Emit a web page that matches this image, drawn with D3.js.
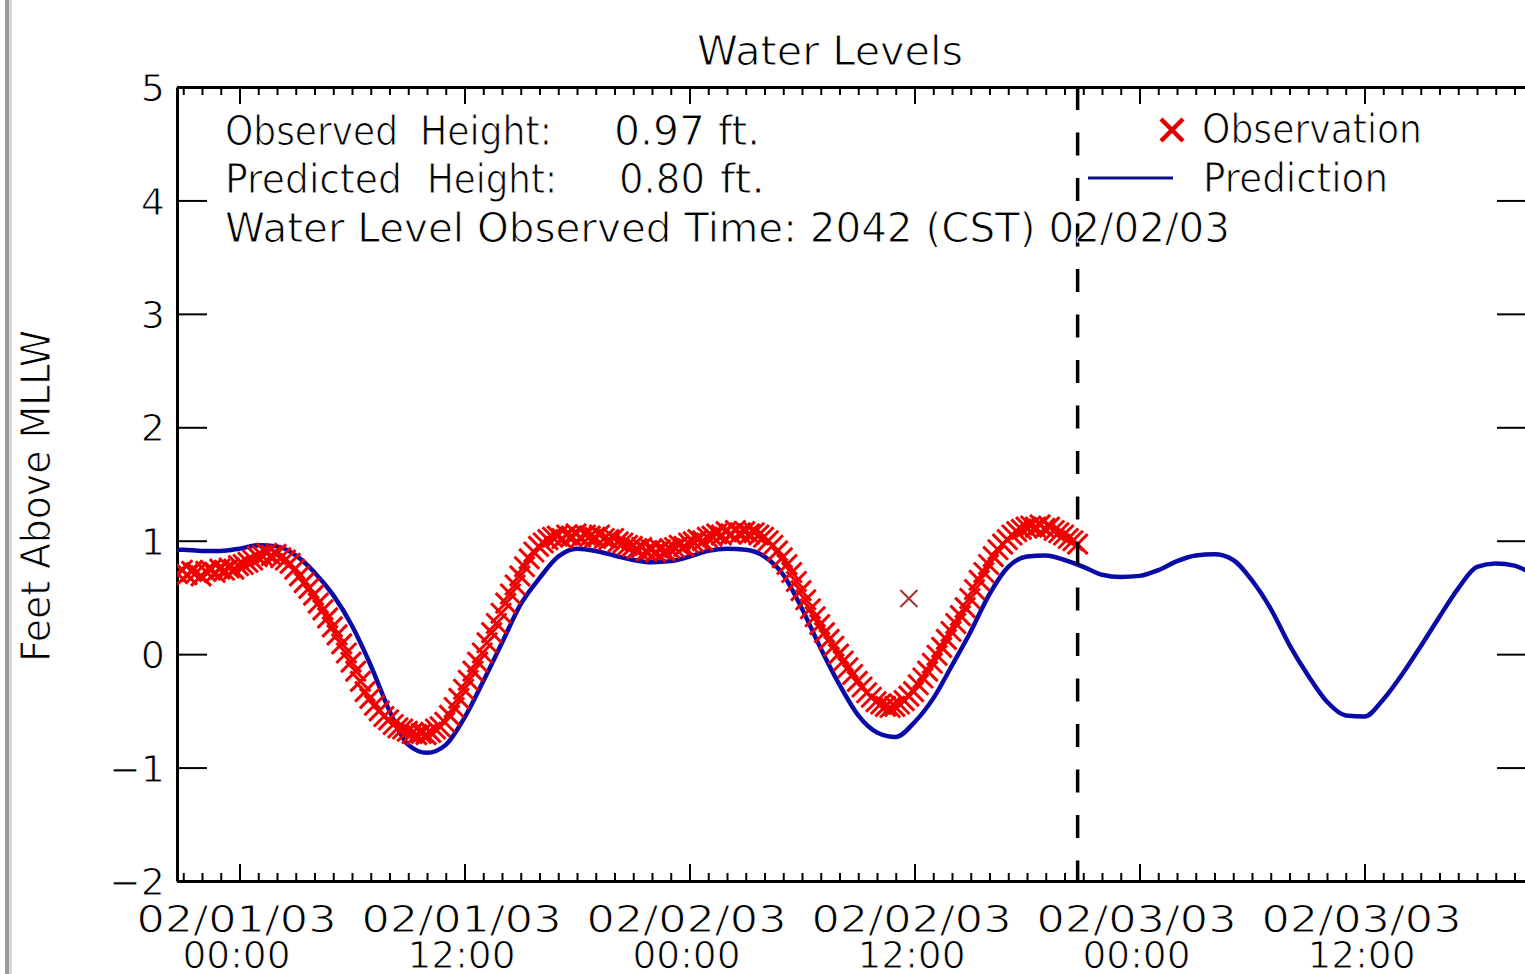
<!DOCTYPE html>
<html>
<head>
<meta charset="utf-8">
<script src="https://cdn.jsdelivr.net/npm/d3@7"></script>
<style>
  html, body { margin: 0; padding: 0; background: #fff; }
  svg { display: block; }
  text { font-family: 'DejaVu Sans', sans-serif; fill: #000; stroke: #fff; stroke-width: 1; }
</style>
</head>
<body>
<svg id="chart" width="1525" height="974"></svg>
<script>
// predicted tide, hourly from 01/31/03 20:00
const predStart = new Date(2003, 0, 31, 20, 0)
const predValues = [
  0.92, 0.92, 0.91, 0.91, 0.93, 0.96, 0.95, 0.87, 0.72, 0.52,
  0.25, -0.10, -0.50, -0.80, -0.87, -0.80, -0.56, -0.24, 0.10, 0.44,
  0.67, 0.86, 0.93, 0.91, 0.87, 0.83, 0.81, 0.82, 0.86, 0.91,
  0.93, 0.92, 0.86, 0.70, 0.40, 0.05, -0.27, -0.54, -0.69, -0.73,
  -0.60, -0.39, -0.10, 0.20, 0.53, 0.77, 0.86, 0.87, 0.83, 0.77,
  0.70, 0.68, 0.69, 0.74, 0.82, 0.87, 0.88, 0.83, 0.65, 0.40,
  0.08, -0.19, -0.42, -0.54, -0.55, -0.40, -0.18, 0.07, 0.33, 0.58,
  0.77, 0.80, 0.78, 0.70
]

// observed water level, every 15 minutes from 01/31/03 20:42
const obsStart = new Date(2003, 0, 31, 20, 42)
const obsValues = [
  0.71, 0.74, 0.70, 0.73, 0.72, 0.69, 0.73, 0.74,
  0.72, 0.75, 0.74, 0.76, 0.75, 0.78, 0.79, 0.81,
  0.83, 0.86, 0.87, 0.89, 0.87, 0.88, 0.85, 0.83,
  0.80, 0.75, 0.69, 0.63, 0.58, 0.52, 0.45, 0.39,
  0.32, 0.24, 0.17, 0.09, 0.01, -0.07, -0.15, -0.24,
  -0.33, -0.39, -0.45, -0.50, -0.55, -0.58, -0.62, -0.65,
  -0.66, -0.68, -0.70, -0.71, -0.70, -0.71, -0.69, -0.66,
  -0.64, -0.60, -0.54, -0.47, -0.39, -0.31, -0.23, -0.15,
  -0.07, 0.01, 0.10, 0.19, 0.27, 0.36, 0.45, 0.53,
  0.61, 0.69, 0.77, 0.84, 0.90, 0.95, 0.98, 1.01,
  1.03, 1.04, 1.02, 1.05, 1.04, 1.06, 1.03, 1.05,
  1.04, 1.03, 1.05, 1.02, 1.01, 1.02, 0.99, 0.98,
  0.96, 0.95, 0.93, 0.94, 0.91, 0.92, 0.90, 0.92,
  0.91, 0.93, 0.94, 0.96, 0.95, 0.98, 0.99, 1.01,
  1.00, 1.03, 1.04, 1.06, 1.05, 1.08, 1.06, 1.09,
  1.07, 1.08, 1.06, 1.07, 1.05, 1.03, 1.00, 0.96,
  0.91, 0.85, 0.79, 0.72, 0.64, 0.56, 0.48, 0.40,
  0.33, 0.26, 0.19, 0.13, 0.07, 0.00, -0.06, -0.12,
  -0.18, -0.24, -0.29, -0.34, -0.38, -0.42, -0.44, -0.46,
  -0.47, -0.46, -0.44, -0.41, -0.37, -0.33, -0.27, -0.21,
  -0.15, -0.08, -0.01, 0.06, 0.13, 0.20, 0.27, 0.34,
  0.41, 0.49, 0.57, 0.65, 0.72, 0.79, 0.86, 0.92,
  0.97, 1.01, 1.05, 1.08, 1.10, 1.12, 1.13, 1.12,
  1.14, 1.11, 1.12, 1.09, 1.07, 1.05, 1.02, 1.00,
  0.97
]

const outlierTimes = [new Date(2003, 1, 2, 11, 42)]
const outlierValues = [0.49]

const observedAt = new Date(2003, 1, 2, 20, 42)
const observedHeight = 0.97
const predictedHeight = 0.80

const yTicks = [-2, -1, 0, 1, 2, 3, 4, 5]
const xMajorTicks = [
  new Date(2003, 1, 1, 0), new Date(2003, 1, 1, 12),
  new Date(2003, 1, 2, 0), new Date(2003, 1, 2, 12),
  new Date(2003, 1, 3, 0), new Date(2003, 1, 3, 12)
]
const xTickDates = ['02/01/03', '02/01/03', '02/02/03', '02/02/03', '02/03/03', '02/03/03']
const xTickTimes = ['00:00', '12:00', '00:00', '12:00', '00:00', '12:00']

const HOUR = 3600 * 1000
const pred = predValues.map((v, i) => ({ t: new Date(+predStart + i * HOUR), v }))
const obs = obsValues.map((v, i) => ({ t: new Date(+obsStart + i * HOUR / 4), v }))
const outliers = outlierValues.map((v, i) => ({ t: outlierTimes[i], v }))

const margin = { left: 177, right: 1527, top: 87, bottom: 881 }
const svg = d3.select('#chart')

const x = d3.scaleTime()
  .domain([new Date(2003, 0, 31, 20, 40), new Date(2003, 1, 3, 20, 40)])
  .range([margin.left, margin.right])

const y = d3.scaleLinear()
  .domain([-2, 5])
  .range([margin.bottom, margin.top])

// window border on the left
svg.append('rect').attr('x', 5).attr('y', 0).attr('width', 4).attr('height', 974).attr('fill', '#9a9a9a')
svg.append('rect').attr('x', 9).attr('y', 0).attr('width', 3).attr('height', 974).attr('fill', '#dadada')

svg.append('clipPath').attr('id', 'plot-clip')
  .append('rect')
  .attr('x', margin.left).attr('y', margin.top)
  .attr('width', margin.right - margin.left).attr('height', margin.bottom - margin.top)

const hourTicks = d3.timeHour.range(x.domain()[0], x.domain()[1])

const styleAxis = g => {
  g.select('.domain').attr('stroke', '#000').attr('stroke-width', 3)
  g.selectAll('.tick line').attr('stroke', '#000').attr('stroke-width', 2)
}

// minor hourly ticks, bottom and top
svg.append('g')
  .attr('transform', `translate(0,${margin.bottom})`)
  .call(d3.axisBottom(x).tickValues(hourTicks).tickSizeInner(-8).tickSizeOuter(0).tickFormat(''))
  .call(styleAxis)
svg.append('g')
  .attr('transform', `translate(0,${margin.top})`)
  .call(d3.axisTop(x).tickValues(hourTicks).tickSizeInner(-8).tickSizeOuter(0).tickFormat(''))
  .call(styleAxis)

// major ticks every 12 hours
svg.append('g')
  .attr('transform', `translate(0,${margin.bottom})`)
  .call(d3.axisBottom(x).tickValues(xMajorTicks).tickSizeInner(-17).tickSizeOuter(0).tickFormat(''))
  .call(styleAxis)
svg.append('g')
  .attr('transform', `translate(0,${margin.top})`)
  .call(d3.axisTop(x).tickValues(xMajorTicks).tickSizeInner(-17).tickSizeOuter(0).tickFormat(''))
  .call(styleAxis)

// two-line tick labels: date over time
const xLabels = svg.append('g')
xLabels.selectAll('text.date')
  .data(xMajorTicks)
  .enter()
  .append('text')
  .attr('x', d => x(d) - 103)
  .attr('y', 932)
  .attr('font-size', 37)
  .attr('textLength', 200)
  .attr('lengthAdjust', 'spacingAndGlyphs')
  .text((d, i) => xTickDates[i])
xLabels.selectAll('text.time')
  .data(xMajorTicks)
  .enter()
  .append('text')
  .attr('x', d => x(d) - 57)
  .attr('y', 968)
  .attr('font-size', 37)
  .attr('textLength', 108)
  .attr('lengthAdjust', 'spacingAndGlyphs')
  .text((d, i) => xTickTimes[i])

// y axes
svg.append('g')
  .attr('transform', `translate(${margin.left},0)`)
  .call(d3.axisLeft(y).tickValues(yTicks).tickSizeInner(-30).tickSizeOuter(0).tickPadding(12).tickFormat(d3.format('d')))
  .call(styleAxis)
  .call(g => g.selectAll('.tick text')
    .attr('font-size', 38).attr('font-family', 'DejaVu Sans')
    .attr('fill', '#000').attr('stroke', '#fff').attr('stroke-width', 1)
    .attr('dy', '0.36em'))
svg.append('g')
  .attr('transform', `translate(${margin.right},0)`)
  .call(d3.axisRight(y).tickValues(yTicks).tickSizeInner(-30).tickSizeOuter(0).tickFormat(''))
  .call(styleAxis)

// prediction line
const plot = svg.append('g').attr('clip-path', 'url(#plot-clip)')
plot.append('path')
  .datum(pred)
  .attr('fill', 'none')
  .attr('stroke', '#0a0aa8')
  .attr('stroke-width', 4.5)
  .attr('stroke-linejoin', 'round')
  .attr('d', d3.line().x(d => x(d.t)).y(d => y(d.v)).curve(d3.curveMonotoneX))

// observations as x marks
const xMark = s => `M${-s},${-s}L${s},${s}M${-s},${s}L${s},${-s}`
plot.append('g')
  .selectAll('path')
  .data(obs)
  .enter()
  .append('path')
  .attr('transform', d => `translate(${x(d.t)},${y(d.v)})`)
  .attr('d', xMark(10))
  .attr('stroke', '#f00000')
  .attr('stroke-width', 3)
  .attr('fill', 'none')
plot.append('g')
  .selectAll('path')
  .data(outliers)
  .enter()
  .append('path')
  .attr('transform', d => `translate(${x(d.t)},${y(d.v)})`)
  .attr('d', xMark(8.5))
  .attr('stroke', '#a83030')
  .attr('stroke-width', 2)
  .attr('fill', 'none')

// current observation time
svg.append('line')
  .attr('x1', x(observedAt)).attr('x2', x(observedAt))
  .attr('y1', margin.top).attr('y2', margin.bottom)
  .attr('stroke', '#000')
  .attr('stroke-width', 3.5)
  .attr('stroke-dasharray', '23 22.5')

// title and labels
const addText = (str, px, py, len, size = 41) => svg.append('text')
  .attr('x', px).attr('y', py)
  .attr('font-size', size)
  .attr('textLength', len)
  .attr('lengthAdjust', 'spacingAndGlyphs')
  .text(str)

addText('Water Levels', 697, 65, 266)

addText('Observed', 225, 145, 173)
addText('Height:', 420, 145, 132)
addText(observedHeight.toFixed(2), 614, 145, 91)
addText('ft.', 718, 145, 42)

addText('Predicted', 225, 193, 177)
addText('Height:', 427, 193, 130)
addText(predictedHeight.toFixed(2), 619, 193, 86)
addText('ft.', 720, 193, 45)

addText(`Water Level Observed Time: ${d3.timeFormat('%H%M')(observedAt)} (CST) ${d3.timeFormat('%m/%d/%y')(observedAt)}`, 225, 242, 1005)

// legend
svg.append('path')
  .attr('transform', 'translate(1172,130)')
  .attr('d', xMark(11))
  .attr('stroke', '#e00000')
  .attr('stroke-width', 4.5)
addText('Observation', 1202, 143, 220)
svg.append('line')
  .attr('x1', 1088).attr('x2', 1173).attr('y1', 178).attr('y2', 178)
  .attr('stroke', '#10108a').attr('stroke-width', 3)
addText('Prediction', 1203, 192, 185)

svg.append('text')
  .attr('transform', 'translate(50,496) rotate(-90)')
  .attr('text-anchor', 'middle')
  .attr('font-size', 41)
  .attr('textLength', 332)
  .attr('lengthAdjust', 'spacingAndGlyphs')
  .text('Feet Above MLLW')
</script>
</body>
</html>
